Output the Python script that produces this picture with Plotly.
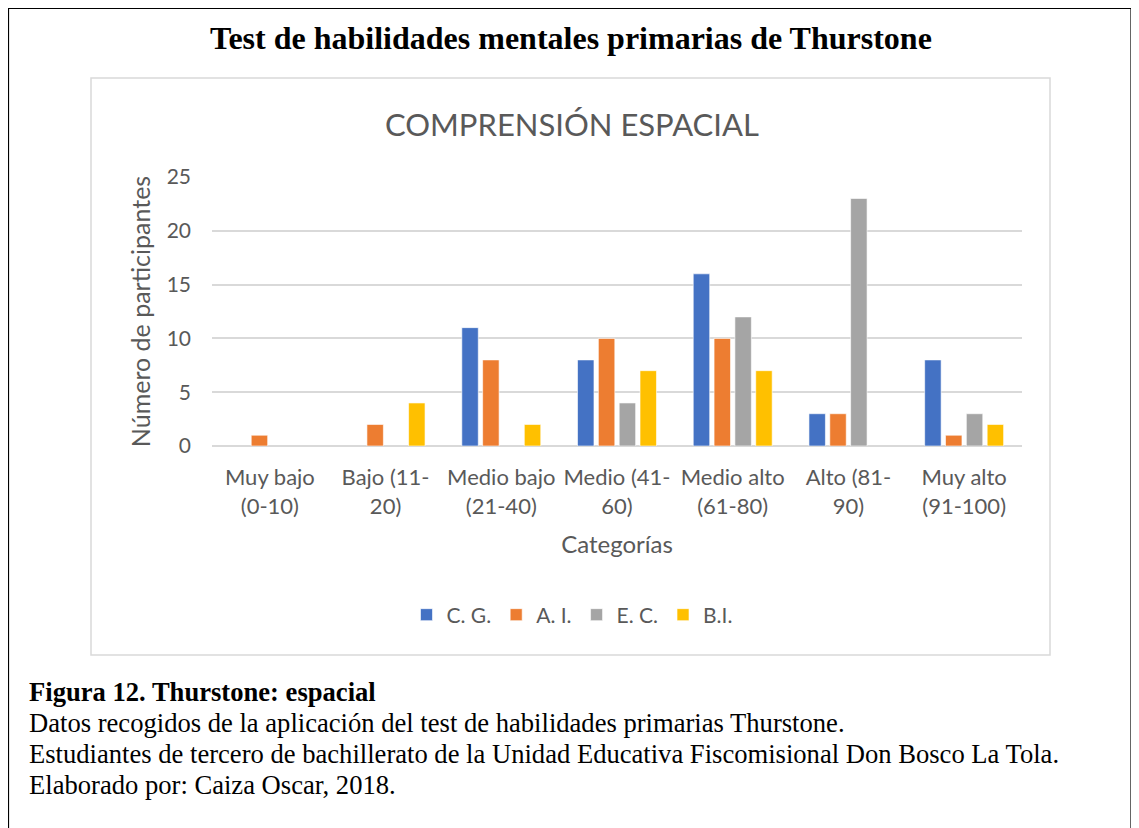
import plotly.graph_objects as go

categories = ["Muy bajo<br>(0-10)", "Bajo (11-<br>20)", "Medio bajo<br>(21-40)", "Medio (41-<br>60)",
              "Medio alto<br>(61-80)", "Alto (81-<br>90)", "Muy alto<br>(91-100)"]
series_names = ["C. G.", "A. I.", "E. C.", "B.I."]
cg = [None, None, 11, 8, 16, 3, 8]
ai = [1, 2, 8, 10, 10, 3, 1]
ec = [None, None, None, 4, 12, 23, 3]
bi = [None, 4, 2, 7, 7, None, 2]
colors = ["#4472C4", "#ED7D31", "#A5A5A5", "#FFC000"]
y_ticks = [0, 5, 10, 15, 20, 25]

W, H = 1139, 828
OFF = 8  # page body margin
def px(x): return (x - OFF) / W
def py(y): return 1 - (y - OFF) / H

TXT = "#595959"
FONT = "Lato"
SERIF = "Liberation Serif"

fig = go.Figure()
for name, vals, c in zip(series_names, [cg, ai, ec, bi], colors):
    fig.add_trace(go.Bar(x=categories, y=vals, name=name,
                         marker=dict(color=c, line=dict(color="rgba(255,255,255,0.6)", width=1))))

fig.update_layout(
    template="none",
    width=W, height=H,
    margin=dict(l=0, r=0, t=0, b=0, pad=0, autoexpand=False),
    paper_bgcolor="white", plot_bgcolor="white",
    barmode="group", bargap=0.28, bargroupgap=0.21,
    font=dict(family=FONT, color=TXT, size=21),
    showlegend=True,
    legend=dict(orientation="h", x=px(572), xanchor="center", y=py(615), yanchor="middle",
                font=dict(size=21, color=TXT, family=FONT), traceorder="normal", bgcolor="rgba(0,0,0,0)"),
    xaxis=dict(domain=[px(212), px(1022)], showgrid=False, showline=False, ticks="", automargin=False,
               tickfont=dict(size=22, color=TXT, family=FONT), ticklabelstandoff=16,
               title=dict(text="Categorías", font=dict(size=24, color=TXT, family=FONT), standoff=18)),
    yaxis=dict(domain=[py(446), py(177)], range=[0, 25], tickvals=y_ticks, showgrid=True, automargin=False,
               gridcolor="#D9D9D9", gridwidth=1.5, zeroline=True, zerolinecolor="#D9D9D9", zerolinewidth=1.5,
               showline=False, ticks="", tickfont=dict(size=21, color=TXT, family=FONT), ticklabelstandoff=20,
               title=dict(text="Número de participantes", font=dict(size=25, color=TXT, family=FONT), standoff=8)),
    shapes=[
        dict(type="rect", xref="paper", yref="paper", x0=px(8.5), x1=px(1131), y0=py(850), y1=py(8.5),
             line=dict(color="black", width=1.2), fillcolor="rgba(0,0,0,0)", layer="below"),
        dict(type="rect", xref="paper", yref="paper", x0=px(91), x1=px(1050), y0=py(655), y1=py(78),
             line=dict(color="#D9D9D9", width=1.5), fillcolor="rgba(0,0,0,0)", layer="below"),
    ],
    annotations=[
        dict(text="<b>Test de habilidades mentales primarias de Thurstone</b>", xref="paper", yref="paper",
             x=px(571), y=py(38), xanchor="center", yanchor="middle", showarrow=False,
             font=dict(family=SERIF, size=32, color="black")),
        dict(text="COMPRENSIÓN ESPACIAL", xref="paper", yref="paper",
             x=px(572), y=py(124), xanchor="center", yanchor="middle", showarrow=False,
             font=dict(family=FONT, size=31, color=TXT)),
        dict(text="<b>Figura 12. Thurstone: espacial</b>", xref="paper", yref="paper",
             x=px(27), y=py(692), xanchor="left", yanchor="middle", showarrow=False,
             font=dict(family=SERIF, size=26.6, color="black")),
        dict(text="Datos recogidos de la aplicación del test de habilidades primarias Thurstone.", xref="paper", yref="paper",
             x=px(27), y=py(723), xanchor="left", yanchor="middle", showarrow=False,
             font=dict(family=SERIF, size=26.6, color="black")),
        dict(text="Estudiantes de tercero de bachillerato de la Unidad Educativa Fiscomisional Don Bosco La Tola.", xref="paper", yref="paper",
             x=px(27), y=py(754), xanchor="left", yanchor="middle", showarrow=False,
             font=dict(family=SERIF, size=26.6, color="black")),
        dict(text="Elaborado por: Caiza Oscar, 2018.", xref="paper", yref="paper",
             x=px(27), y=py(785), xanchor="left", yanchor="middle", showarrow=False,
             font=dict(family=SERIF, size=26.6, color="black")),
    ],
)

fig.write_html("out.html")
